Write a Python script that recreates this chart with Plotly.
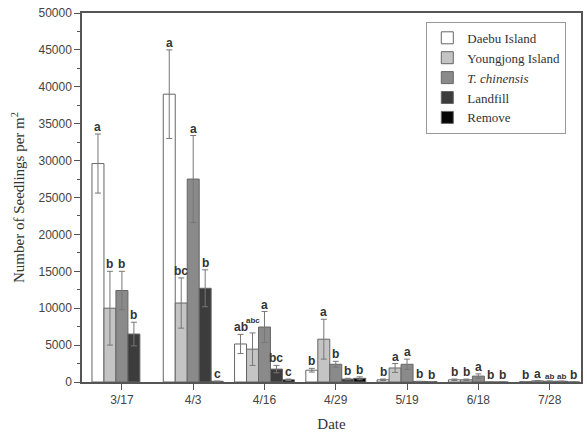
import plotly.graph_objects as go

dates = ["3/17", "4/3", "4/16", "4/29", "5/19", "6/18", "7/28"]
series_names = ["Daebu Island", "Youngjong Island", "<i>T. chinensis</i>", "Landfill", "Remove"]

daebu = [29600, 39000, 5150, 1600, 300, 300, 50]
daebu_err = [4000, 6000, 1300, 250, 100, 100, 0]
youngjong = [10000, 10700, 4450, 5800, 1900, 300, 150]
youngjong_err = [5000, 3400, 2200, 2700, 600, 100, 50]
chinensis = [12400, 27500, 7450, 2400, 2400, 800, 100]
chinensis_err = [2600, 5900, 2100, 400, 700, 300, 50]
landfill = [6500, 12700, 1750, 400, 80, 0, 100]
landfill_err = [1600, 2500, 500, 100, 0, 0, 0]
remove = [None, 100, 300, 500, 60, 0, 0]
remove_err = [None, 0, 100, 200, 0, 0, 0]

daebu_letters = ["a", "a", "ab", "b", "b", "b", "b"]
youngjong_letters = ["b", "bc", "abc", "a", "a", "b", "a"]
chinensis_letters = ["b", "a", "a", "b", "a", "a", "ab"]
landfill_letters = ["b", "b", "bc", "b", "b", "b", "ab"]
remove_letters = ["", "c", "c", "b", "b", "b", "b"]

values = [daebu, youngjong, chinensis, landfill, remove]
errors = [daebu_err, youngjong_err, chinensis_err, landfill_err, remove_err]
letters = [daebu_letters, youngjong_letters, chinensis_letters, landfill_letters, remove_letters]
colors = ["#ffffff", "#c4c4c4", "#8a8a8a", "#3c3c3c", "#050505"]

w = 0.168
xs = list(range(len(dates)))

fig = go.Figure()
annotations = []
for i, (name, vals, errs, labs, col) in enumerate(zip(series_names, values, errors, letters, colors)):
    fig.add_trace(go.Bar(
        x=xs, y=vals, name=name, width=w, offset=(i - 2.5) * w,
        marker=dict(color=col, line=dict(color="#666666", width=1)),
        error_y=dict(type="data", array=errs, visible=True, color="#777777", thickness=1, width=3),
    ))
    for k in xs:
        if vals[k] is None or labs[k] == "":
            continue
        lab = labs[k]
        small = len(lab) >= 3 or (len(lab) == 2 and k == len(xs) - 1)
        annotations.append(dict(
            x=k + (i - 2) * w, y=vals[k] + (errs[k] or 0), xref="x", yref="y",
            text="<b>" + lab + "</b>", showarrow=False, yanchor="bottom",
            yshift=6 if lab == "abc" else -2,
            font=dict(family="Liberation Sans", size=8 if small else 12, color="#333333"),
        ))

fig.update_layout(
    width=587, height=441,
    margin=dict(l=82, r=4, t=13, b=59),
    paper_bgcolor="white", plot_bgcolor="white",
    barmode="overlay",
    annotations=annotations,
    showlegend=True,
    legend=dict(x=0.69, y=0.976, xanchor="left", yanchor="top",
                bgcolor="white", bordercolor="#999999", borderwidth=1,
                font=dict(family="Liberation Serif", size=13, color="#333333"),
                itemwidth=30, tracegroupgap=0),
    xaxis=dict(
        tickmode="array", tickvals=xs, ticktext=dates, range=[-0.56, 6.44],
        showline=True, linecolor="#555555", linewidth=1.5, mirror=True,
        ticks="outside", ticklen=6, tickcolor="#555555", showgrid=False, zeroline=False,
        tickfont=dict(family="Liberation Sans", size=12, color="#444444"),
        title=dict(text="Date", font=dict(family="Liberation Serif", size=15, color="#333333"), standoff=12),
    ),
    yaxis=dict(
        range=[0, 50000], dtick=5000, tick0=0, tickformat="d",
        showline=True, linecolor="#555555", linewidth=1.5, mirror=True,
        ticks="outside", ticklen=6, tickcolor="#555555", showgrid=False, zeroline=False,
        minor=dict(ticks="outside", ticklen=3, dtick=2500, tickcolor="#555555"),
        tickfont=dict(family="Liberation Sans", size=12, color="#444444"),
        title=dict(text="Number of Seedlings per m<sup>2</sup>", font=dict(family="Liberation Serif", size=15, color="#333333"), standoff=10),
    ),
)

fig.write_html("out.html")
